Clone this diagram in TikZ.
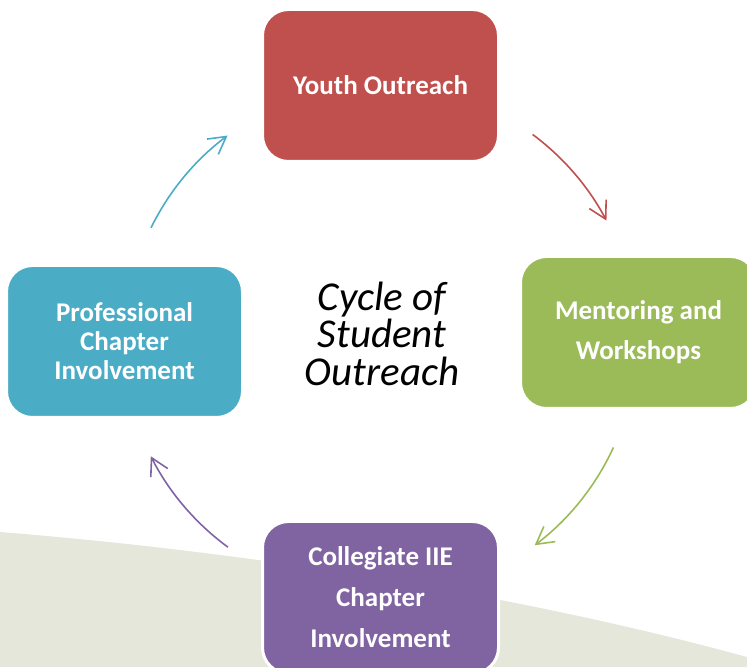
\documentclass[tikz,border=0pt]{standalone}
\usepackage{fontspec}
\setmainfont{Carlito}
\usetikzlibrary{arrows.meta}
\definecolor{cred}{HTML}{C0504D}
\definecolor{cgreen}{HTML}{9BBB59}
\definecolor{cpurple}{HTML}{8064A2}
\definecolor{ccyan}{HTML}{4BACC6}
\definecolor{cground}{HTML}{E6E7DB}
\tikzset{
  stepbox/.style={rectangle, rounded corners=26pt, minimum width=236pt, minimum height=152pt,
    draw=white, line width=3pt, text=white, align=center, inner sep=0pt,
    font=\fontsize{27}{29}\selectfont\bfseries},
  cyclearrow/.style={line width=1.6pt, -{Straight Barb[length=17pt,width=19pt,line width=1.6pt]}}
}
\begin{document}
\begin{tikzpicture}[x=1pt,y=1pt]
\useasboundingbox (0,0) rectangle (747,667);
\clip (0,0) rectangle (747,667);
% background ground shape
\fill[cground] (0,135) .. controls (250,115) and (520,72) .. (747,10) -- (747,0) -- (0,0) -- cycle;
% center of cycle
\coordinate (c) at (380,327);
% boxes
\node[stepbox, fill=cred] (youth) at (380.5,581.5) {Youth Outreach};
\node[stepbox, fill=cgreen, font=\fontsize{27}{40}\selectfont\bfseries] (mentor) at (638.5,334.5) {Mentoring and\\Workshops};
\node[stepbox, fill=cpurple, font=\fontsize{27}{41}\selectfont\bfseries] (coll) at (380.5,69.5) {Collegiate IIE\\Chapter\\Involvement};
\node[stepbox, fill=ccyan] (prof) at (124.5,325.5) {Professional\\Chapter\\Involvement};
% center text
\node[align=center, inner sep=0pt, font=\fontsize{41}{37.5}\selectfont\itshape] (title) at (382,333.5) {Cycle of\\Student\\Outreach};
% arrows
\coordinate (rs) at ([shift={(53.4:256pt)}]c);
\coordinate (gs) at ([shift={(-24.7:257pt)}]c);
\coordinate (ps) at ([shift={(233.7:257pt)}]c);
\coordinate (cs) at ([shift={(153.9:255pt)}]c);
\draw[cyclearrow, cred] (rs) arc[start angle=53.4, end angle=27.8, radius=256pt];
\draw[cyclearrow, cgreen] (gs) arc[start angle=-24.7, end angle=-53, radius=257pt];
\draw[cyclearrow, cpurple] (ps) arc[start angle=233.7, end angle=206.9, radius=257pt];
\draw[cyclearrow, ccyan] (cs) arc[start angle=153.9, end angle=126.7, radius=255pt];
\end{tikzpicture}
\end{document}
